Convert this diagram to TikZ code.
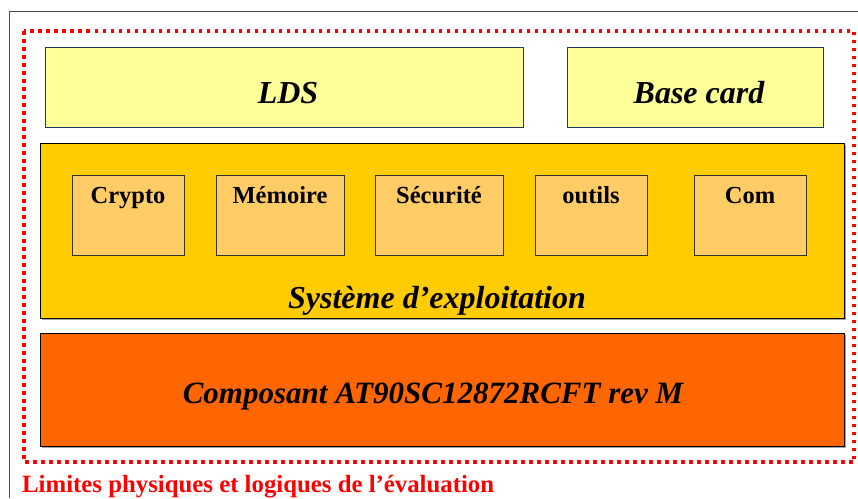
\documentclass[tikz,border=0pt]{standalone}
\usepackage{fontspec}
\setmainfont{Liberation Serif}
\usetikzlibrary{calc, positioning, shadows}
\definecolor{ldsyellow}{HTML}{FFFF99}
\definecolor{ldsborder}{HTML}{1F3A60}
\definecolor{osyellow}{HTML}{FFCC00}
\definecolor{subyellow}{HTML}{FFCC66}
\definecolor{comporange}{HTML}{FF6600}
\begin{document}
\begin{tikzpicture}[x=1pt, y=-1pt,
    box/.style={draw, rectangle, inner sep=0pt, line width=1pt},
    topbox/.style={box, draw=ldsborder, fill=ldsyellow},
    subbox/.style={box, draw=black!80, fill=subyellow, minimum width=112pt, minimum height=80pt},
    bigtxt/.style={anchor=base, inner sep=0pt, font=\fontsize{32}{37}\selectfont\bfseries\itshape},
    subtxt/.style={anchor=base, inner sep=0pt, font=\fontsize{24.5}{29}\selectfont\bfseries}]
        \useasboundingbox (0,0) rectangle (858,498);
        \draw[black!70, line width=1pt] (9,498) -- (9,11) -- (858,11);

        % couches
        \node[topbox, minimum width=478pt, minimum height=80pt] (lds) at (284,87) {};
        \node[topbox, minimum width=256pt, minimum height=80pt] (basecard) at (695,87) {};
        \node[box, fill=osyellow, minimum width=804pt, minimum height=175pt,
              drop shadow={shadow xshift=1.5pt, shadow yshift=-1.5pt, fill=black!35, opacity=1}] (os) at (442,230.5) {};
        \node[box, fill=comporange, minimum width=804pt, minimum height=113pt,
              drop shadow={shadow xshift=2pt, shadow yshift=-2pt, fill=black!35, opacity=1}] (comp) at (442,389.5) {};

        % modules du systeme
        \node[subbox] (crypto) at (128,215) {};
        \node[subbox, minimum width=128pt] (memoire) at (280,215) {};
        \node[subbox, minimum width=128pt] (securite) at (439,215) {};
        \node[subbox] (outils) at (591,215) {};
        \node[subbox] (com) at (750,215) {};

        \foreach \m/\t in {crypto/Crypto, memoire/Mémoire, securite/Sécurité, outils/outils, com/Com}
            \node[subtxt] (\m txt) at ($(\m.north)+(0,29)$) {\t};

        \node[bigtxt] (ldstxt) at (288,103) {LDS};
        \node[bigtxt] (basecardtxt) at (699,103) {Base card};
        \node[bigtxt] (ostxt) at (437,308) {Système d’exploitation};
        \node[bigtxt, font=\fontsize{31}{36}\selectfont\bfseries\itshape] (comptxt) at (433,403) {Composant AT90SC12872RCFT rev M};

        % limites de l'evaluation
        \draw[red, line width=3.5pt, dash pattern=on 3.5pt off 4.5pt] (24,31) rectangle (854,462);
        \node[anchor=base west, inner sep=0pt, text=red, font=\fontsize{24.8}{29}\selectfont\bfseries] (limites) at (22,492)
            {Limites physiques et logiques de l’évaluation};
\end{tikzpicture}
\end{document}
